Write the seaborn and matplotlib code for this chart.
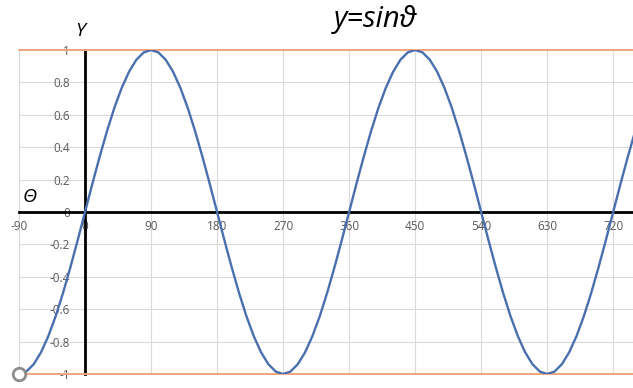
import matplotlib
matplotlib.use("Agg")
import matplotlib.pyplot as plt
import seaborn as sns
import pandas as pd

# Data (angle in degrees, y value)
angles = list(range(-90, 751, 10))
y_values = [
    -1, -0.985, -0.940, -0.866, -0.766, -0.643, -0.5, -0.342, -0.174,
    0, 0.174, 0.342, 0.5, 0.643, 0.766, 0.866, 0.940, 0.985,
    1, 0.985, 0.940, 0.866, 0.766, 0.643, 0.5, 0.342, 0.174,
    0, -0.174, -0.342, -0.5, -0.643, -0.766, -0.866, -0.940, -0.985,
    -1, -0.985, -0.940, -0.866, -0.766, -0.643, -0.5, -0.342, -0.174,
    0, 0.174, 0.342, 0.5, 0.643, 0.766, 0.866, 0.940, 0.985,
    1, 0.985, 0.940, 0.866, 0.766, 0.643, 0.5, 0.342, 0.174,
    0, -0.174, -0.342, -0.5, -0.643, -0.766, -0.866, -0.940, -0.985,
    -1, -0.985, -0.940, -0.866, -0.766, -0.643, -0.5, -0.342, -0.174,
    0, 0.174, 0.342, 0.5,
]
x_ticks = [-90, 0, 90, 180, 270, 360, 450, 540, 630, 720]
y_ticks = [-1, -0.8, -0.6, -0.4, -0.2, 0, 0.2, 0.4, 0.6, 0.8, 1]
y_tick_labels = ["-1", "-0.8", "-0.6", "-0.4", "-0.2", "0", "0.2", "0.4", "0.6", "0.8", "1"]
bound_levels = [1, -1]
start_point = (-90, -1)
title = "y=sin\u03d1"

sns.set_theme(style="white")
plt.rcParams['font.family'] = ['Open Sans', 'DejaVu Sans']

df = pd.DataFrame({"angle": angles, "y": y_values})

fig = plt.figure(figsize=(6.33, 3.88), dpi=100)
ax = fig.add_axes([19 / 633, 14 / 388, 614 / 633, 324 / 388])

sns.lineplot(data=df, x="angle", y="y", ax=ax, color="#4A6FAD", linewidth=1.7,
             zorder=4, sort=False)

for lvl in bound_levels:
    ax.axhline(lvl, color="#EFA57C", linewidth=1.4, zorder=3, clip_on=False)

ax.plot([start_point[0]], [start_point[1]], marker="o", markersize=9,
        markerfacecolor="white", markeredgecolor="#8C8C8C", markeredgewidth=2,
        zorder=6, clip_on=False)

ax.set_xlim(-90, 747)
ax.set_ylim(-1, 1)
ax.set_xticks(x_ticks)
ax.set_xticklabels([str(t) for t in x_ticks])
ax.set_yticks(y_ticks)
ax.set_yticklabels(y_tick_labels)
ax.set_xlabel("")
ax.set_ylabel("")

ax.grid(True, color="#D9D9D9", linewidth=0.8, zorder=0)
ax.set_axisbelow(True)

for s in ["top", "right"]:
    ax.spines[s].set_visible(False)
ax.spines["left"].set_position(("data", 0))
ax.spines["bottom"].set_position(("data", 0))
ax.spines["left"].set_color("black")
ax.spines["bottom"].set_color("black")
ax.spines["left"].set_linewidth(2)
ax.spines["bottom"].set_linewidth(2)
ax.spines["left"].set_zorder(2)
ax.spines["bottom"].set_zorder(2)

ax.tick_params(axis="both", length=0, labelsize=8.5, labelcolor="#595959")
ax.tick_params(axis="x", pad=6)
ax.tick_params(axis="y", pad=11)

ax.text(-7, 1.12, "Y", fontsize=14, style="italic", color="black",
        ha="center", va="center", clip_on=False)
ax.text(-75, 0.093, "\u0398", fontsize=14, style="italic", color="black",
        ha="center", va="center", clip_on=False)

fig.text(375 / 633, 1 - 20 / 388, title, fontsize=21, style="italic",
         color="black", ha="center", va="center")

fig.savefig("out.png", dpi=100, facecolor="white")
